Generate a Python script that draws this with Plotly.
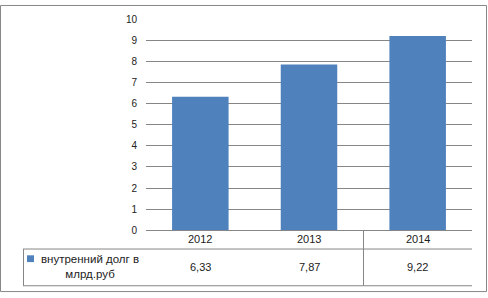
import plotly.graph_objects as go

categories = ["2012", "2013", "2014"]
values = [6.33, 7.87, 9.22]
series_name = "внутренний долг в<br>млрд.руб"
y_ticks = list(range(0, 11))

W, H = 488, 298
def px(x): return x / W
def py(y): return (H - y) / H

x0, x1 = 146, 472
ytop, ybot = 15, 233

BAR = "#4F81BD"
GRID = "#868686"
FONT = dict(family="Liberation Sans, Arial", size=11, color="#222222")

fig = go.Figure()
fig.add_trace(go.Bar(x=categories, y=values, marker=dict(color=BAR, line=dict(width=0)),
                     width=0.52, showlegend=False, hoverinfo="skip"))

shapes = []
# outer border
shapes.append(dict(type="rect", xref="paper", yref="paper", x0=px(0.5), x1=px(486.5), y0=py(296.5), y1=py(0.5),
                   line=dict(color="#888888", width=1)))
# table lines
shapes.append(dict(type="line", xref="paper", yref="paper", x0=px(23), x1=px(472), y0=py(252.5), y1=py(252.5),
                   line=dict(color=GRID, width=1)))
shapes.append(dict(type="line", xref="paper", yref="paper", x0=px(23), x1=px(472), y0=py(290.5), y1=py(290.5),
                   line=dict(color=GRID, width=1)))
shapes.append(dict(type="line", xref="paper", yref="paper", x0=px(23.5), x1=px(23.5), y0=py(252.5), y1=py(290.5),
                   line=dict(color=GRID, width=1)))
shapes.append(dict(type="line", xref="paper", yref="paper", x0=px(363.5), x1=px(363.5), y0=py(233), y1=py(290.5),
                   line=dict(color=GRID, width=1)))
# legend key
shapes.append(dict(type="rect", xref="paper", yref="paper", x0=px(27), x1=px(34), y0=py(266), y1=py(259),
                   line=dict(width=0), fillcolor=BAR))

annotations = []
for i, (c, v) in enumerate(zip(categories, values)):
    annotations.append(dict(x=i, xref="x", y=py(242.5), yref="paper", text=c, showarrow=False,
                            font=FONT, xanchor="center", yanchor="middle"))
    annotations.append(dict(x=i, xref="x", y=py(271), yref="paper", text=f"{v:.2f}".replace(".", ","),
                            showarrow=False, font=FONT, xanchor="center", yanchor="middle"))
annotations.append(dict(x=px(90), xref="paper", y=py(271), yref="paper", text=series_name, showarrow=False,
                        font=dict(FONT, size=11.5), xanchor="center", yanchor="middle", align="center"))

fig.update_layout(
    width=W, height=H, autosize=False,
    margin=dict(l=0, r=0, t=0, b=0),
    paper_bgcolor="white", plot_bgcolor="white",
    shapes=shapes, annotations=annotations,
    xaxis=dict(type="category", domain=[px(x0), px(x1)], showticklabels=False, showgrid=False,
               showline=False, zeroline=False, ticks="", range=[-0.5, 2.5]),
    yaxis=dict(domain=[py(ybot), py(ytop)], range=[0, 10], tickvals=y_ticks, showgrid=True,
               gridcolor=GRID, gridwidth=1, zeroline=True, zerolinecolor=GRID, zerolinewidth=1,
               showline=False, ticks="", tickfont=dict(FONT, size=10), ticklabelstandoff=8),
)

fig.write_html("out.html")
